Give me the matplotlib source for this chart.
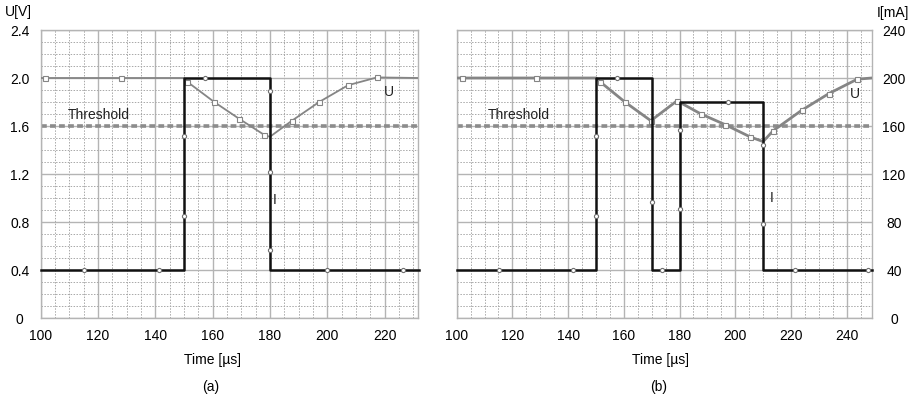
import matplotlib.pyplot as plt
from matplotlib.ticker import MultipleLocator

plt.rcParams['font.family'] = ['Liberation Sans', 'DejaVu Sans']

# panel (a) : voltage U [V]
ua_t = [100, 101.6, 128.1, 150, 151.1, 160.6, 169.3, 178.1, 180, 187.7, 197.2, 207.3, 217.4, 232]
ua_v = [2.0, 2.0, 2.0, 2.0, 1.97, 1.80, 1.66, 1.525, 1.51, 1.644, 1.80, 1.94, 2.005, 2.0]
ua_marks = [1, 2, 4, 5, 6, 7, 9, 10, 11, 12]

# panel (a) : current I [mA]
ia_t = [100, 115, 141.5, 150, 150, 150, 150, 157.4, 180, 180, 180, 180, 180, 200, 226.4, 232]
ia_v = [40, 40, 40, 40, 85, 152, 200, 200, 200, 189, 122, 57, 40, 40, 40, 40]
ia_marks = [1, 2, 4, 5, 7, 9, 10, 11, 13, 14]

# panel (b) : voltage U [V]
ub_t = [100, 102, 128.4, 150, 151.4, 160.4, 169.7, 179.1, 187.7, 196.5, 205.3, 210, 213.6, 223.8, 233.6, 243.8, 249]
ub_v = [2.0, 2.0, 2.0, 2.0, 1.97, 1.80, 1.644, 1.81, 1.70, 1.61, 1.51, 1.47, 1.56, 1.73, 1.87, 1.99, 2.0]
ub_marks = [1, 2, 4, 5, 6, 7, 8, 9, 10, 12, 13, 14, 15]

# panel (b) : current I [mA]
ib_t = [100, 115.3, 141.9, 150, 150, 150, 150, 157.5, 170, 170, 170, 173.8, 180, 180, 180, 180,
        197.4, 210, 210, 210, 210, 221.3, 247.6, 249]
ib_v = [40, 40, 40, 40, 85, 152, 200, 200, 200, 97, 40, 40, 40, 91, 157, 180,
        180, 180, 144, 78, 40, 40, 40, 40]
ib_marks = [1, 2, 4, 5, 7, 9, 11, 13, 14, 16, 18, 19, 21, 22]

threshold = 1.6
u_ticks = [0, 0.4, 0.8, 1.2, 1.6, 2.0, 2.4]
i_ticks = [0, 40, 80, 120, 160, 200, 240]

grid_col = '#b4b4b4'
u_col = '#858585'

fig = plt.figure(figsize=(9.14, 3.99), dpi=100)
W, H = 914, 399


def make_panel(left, right, xmax, ut, uv, um, it, iv, im, u_lw, thr_x, u_lab, i_lab, show_left, show_right):
    ax = fig.add_axes([left / W, 1 - 318 / H, (right - left) / W, 288 / H])
    ax.set_xlim(100, xmax)
    ax.set_ylim(0, 2.4)
    ax.set_yticks(u_ticks)
    ax.set_yticklabels(['0', '0.4', '0.8', '1.2', '1.6', '2.0', '2.4'])
    ax.xaxis.set_major_locator(MultipleLocator(20))
    ax.xaxis.set_minor_locator(MultipleLocator(5))
    ax.yaxis.set_minor_locator(MultipleLocator(0.1))
    ax.grid(which='major', color=grid_col, lw=1.0, ls='-')
    ax.grid(which='minor', color='#a8a8a8', lw=0.7, ls=(0, (1.5, 1.5)))
    ax.set_axisbelow(True)
    ax.tick_params(which='both', length=0, labelsize=10)
    ax.tick_params(axis='x', pad=8)
    if show_left:
        ax.tick_params(axis='y', pad=15)
        for lab in ax.get_yticklabels():
            lab.set_horizontalalignment('center')
    else:
        ax.tick_params(axis='y', labelleft=False)
    for s in ax.spines.values():
        s.set_color(grid_col)
        s.set_linewidth(1.0)

    # threshold
    ax.axhline(threshold, color='#8c8c8c', lw=2.6, ls=(0, (1.6, 0.9)), zorder=2)
    ax.text(thr_x, 1.69, 'Threshold', fontsize=10, va='center', ha='left', color='#222222')

    # U curve
    ax.plot(ut, uv, color=u_col, lw=u_lw, marker='s', markevery=um, ms=3.6,
            mfc='white', mec=u_col, mew=0.8, zorder=4)

    # I on its own scale (twin axes sits above the grid)
    ax2 = ax.twinx()
    ax2.set_ylim(0, 240)
    ax2.set_yticks(i_ticks)
    ax2.tick_params(length=0, labelsize=10)
    for s in ax2.spines.values():
        s.set_visible(False)
    if show_right:
        ax2.tick_params(axis='y', pad=16)
        for lab in ax2.get_yticklabels():
            lab.set_horizontalalignment('center')
    else:
        ax2.tick_params(axis='y', labelright=False)
    ax2.plot(it, iv, color='#111111', lw=1.8, marker='o', markevery=im, ms=3,
             mfc='white', mec='#707070', mew=0.8, zorder=3, clip_on=False)

    ax.text(u_lab[0], u_lab[1], 'U', fontsize=10, ha='center', va='center', color='#222222')
    ax.text(i_lab[0], i_lab[1], 'I', fontsize=10, ha='center', va='center', color='#222222')
    return ax, ax2


axa, axa2 = make_panel(40.5, 417.5, 231.5, ua_t, ua_v, ua_marks, ia_t, ia_v, ia_marks,
                       1.3, 109.5, (221.5, 1.88), (181.8, 0.98), True, False)
axb, axb2 = make_panel(456.7, 871.7, 249, ub_t, ub_v, ub_marks, ib_t, ib_v, ib_marks,
                       2.0, 111.2, (243.0, 1.87), (213.2, 1.0), False, True)

fig.text(5 / W, 1 - 12 / H, 'U[V]', fontsize=10, ha='left', va='center')
fig.text(877 / W, 1 - 13 / H, 'I[mA]', fontsize=10, ha='left', va='center')
fig.text(212 / W, 1 - 360 / H, 'Time [µs]', fontsize=10, ha='center', va='center')
fig.text(660 / W, 1 - 360 / H, 'Time [µs]', fontsize=10, ha='center', va='center')
fig.text(211 / W, 1 - 387 / H, '(a)', fontsize=10, ha='center', va='center')
fig.text(659 / W, 1 - 387 / H, '(b)', fontsize=10, ha='center', va='center')

fig.savefig('out.png', dpi=100)
